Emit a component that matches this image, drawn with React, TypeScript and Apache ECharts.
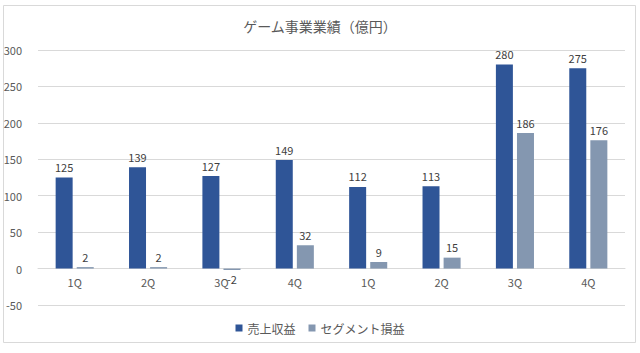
import React, { useEffect, useRef } from "react";
import * as echarts from "echarts";

const categories = ["1Q", "2Q", "3Q", "4Q", "1Q", "2Q", "3Q", "4Q"];
const revenue = [125, 139, 127, 149, 112, 113, 280, 275];
const segmentProfit = [2, 2, -2, 32, 9, 15, 186, 176];
const seriesNames = ["売上収益", "セグメント損益"];
const titleText = "ゲーム事業業績（億円）";

const FONT = "'Noto Sans CJK JP', 'Noto Sans', sans-serif";

export default function App() {
  const ref = useRef<HTMLDivElement>(null);
  useEffect(() => {
    if (!ref.current) return;
    const chart = echarts.init(ref.current, undefined, { renderer: "svg" });
    const labelStyle = {
      show: true,
      position: "top" as const,
      color: "#404040",
      fontSize: 11,
      fontFamily: FONT,
      distance: 5,
    };
    const yMin = -50;
    const yMax = 300;
    const gridTop = 50;
    const gridBottom = 48;
    const gridH = 353 - gridTop - gridBottom;
    const zeroOffset = -(gridH * (0 - yMin)) / (yMax - yMin);
    chart.setOption({
      animation: false,
      backgroundColor: "#ffffff",
      textStyle: { fontFamily: FONT },
      title: {
        text: titleText,
        left: "center",
        top: 14,
        textStyle: { color: "#595959", fontSize: 14, fontWeight: "normal", fontFamily: FONT },
      },
      legend: {
        bottom: 14,
        left: "center",
        icon: "rect",
        itemWidth: 7,
        itemHeight: 7,
        itemGap: 13,
        textStyle: { color: "#595959", fontSize: 12, fontFamily: FONT },
        data: seriesNames,
      },
      graphic: [
        {
          type: "rect",
          shape: { x: 3.5, y: 5.5, width: 632, height: 337 },
          style: { fill: "none", stroke: "#d9d9d9", lineWidth: 1 },
          silent: true,
        },
      ],
      grid: { left: 38, right: 15, top: gridTop, bottom: gridBottom },
      xAxis: {
        type: "category",
        data: categories,
        offset: zeroOffset,
        axisTick: { show: false },
        axisLine: { onZero: false, lineStyle: { color: "#d9d9d9" } },
        axisLabel: { color: "#595959", fontSize: 11, margin: 8, fontFamily: FONT },
      },
      yAxis: {
        type: "value",
        min: yMin,
        max: yMax,
        interval: 50,
        axisLine: { show: false },
        axisTick: { show: false },
        splitLine: { lineStyle: { color: "#d9d9d9" } },
        axisLabel: { color: "#595959", fontSize: 11, margin: 16, fontFamily: FONT },
      },
      series: [
        {
          name: seriesNames[0],
          type: "bar",
          data: revenue,
          barWidth: 17,
          barGap: "24%",
          itemStyle: { color: "#2F5597" },
          label: labelStyle,
        },
        {
          name: seriesNames[1],
          type: "bar",
          data: segmentProfit.map((v) =>
            v < 0 ? { value: v, label: { position: "bottom", distance: 3 } } : v
          ),
          barWidth: 17,
          itemStyle: { color: "#8497B0" },
          label: labelStyle,
        },
      ],
    });
    return () => chart.dispose();
  }, []);
  return (
    <div
      ref={ref}
      style={{ position: "fixed", left: 0, top: 0, width: 640, height: 353 }}
    />
  );
}
